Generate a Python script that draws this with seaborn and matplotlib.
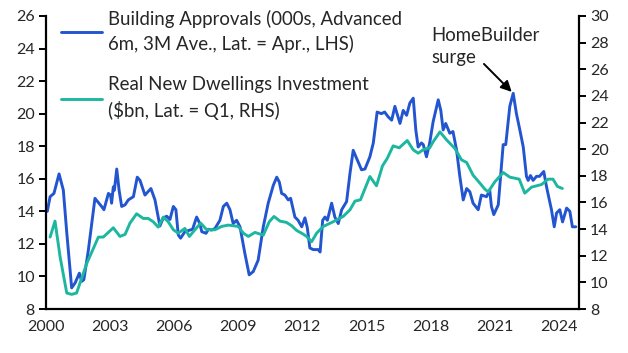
import numpy as np
import pandas as pd
import matplotlib
matplotlib.use("Agg")
import matplotlib.pyplot as plt
import seaborn as sns

# Building approvals (000s, LHS) - decimal year / value
approvals_year = [
    2000.06, 2000.19, 2000.37, 2000.61, 2000.81, 2000.97, 2001.2, 2001.36, 2001.56, 2001.67,
    2001.77, 2001.98, 2002.29, 2002.6, 2002.71, 2002.92, 2003.02, 2003.07, 2003.15, 2003.2,
    2003.31, 2003.42, 2003.54, 2003.7, 2003.85, 2004.09, 2004.27, 2004.4, 2004.63, 2004.91,
    2005.1, 2005.33, 2005.49, 2005.65, 2005.8, 2005.96, 2006.08, 2006.19, 2006.3, 2006.5,
    2006.74, 2006.86, 2007.05, 2007.2, 2007.29, 2007.49, 2007.6, 2007.75, 2007.91, 2008.14,
    2008.3, 2008.46, 2008.61, 2008.76, 2008.92, 2009.08, 2009.31, 2009.51, 2009.7, 2009.93,
    2010.17, 2010.4, 2010.64, 2010.8, 2010.92, 2011.03, 2011.18, 2011.34, 2011.45, 2011.65,
    2011.8, 2011.97, 2012.12, 2012.23, 2012.35, 2012.51, 2012.74, 2012.83, 2012.95, 2013.06,
    2013.17, 2013.37, 2013.52, 2013.68, 2013.84, 2014.07, 2014.23, 2014.38, 2014.54, 2014.77,
    2014.93, 2015.16, 2015.32, 2015.5, 2015.7, 2015.85, 2016.02, 2016.18, 2016.33, 2016.57,
    2016.72, 2016.88, 2017.03, 2017.19, 2017.31, 2017.42, 2017.57, 2017.66, 2017.81, 2017.96,
    2018.12, 2018.36, 2018.48, 2018.59, 2018.71, 2018.9, 2019.05, 2019.22, 2019.37, 2019.53,
    2019.69, 2019.84, 2019.99, 2020.23, 2020.38, 2020.62, 2020.77, 2020.85, 2020.96, 2021.17,
    2021.4, 2021.52, 2021.71, 2021.87, 2022.02, 2022.18, 2022.34, 2022.49, 2022.57, 2022.68,
    2022.8, 2022.96, 2023.1, 2023.3, 2023.43, 2023.66, 2023.79, 2023.9, 2024.05, 2024.18,
    2024.37, 2024.52, 2024.64, 2024.8,
]
approvals = [
    14.0, 14.9, 15.1, 16.3, 15.3, 12.7, 9.3, 9.6, 10.2, 9.7,
    9.8, 11.6, 14.8, 14.3, 14.1, 15.1, 15.0, 14.5, 15.5, 15.3,
    16.6, 15.3, 14.3, 14.4, 14.7, 14.9, 16.1, 15.9, 15.0, 15.4,
    14.7, 13.1, 13.6, 13.7, 13.5, 14.3, 14.1, 12.55, 12.35, 12.75,
    12.85, 12.9, 13.65, 13.25, 12.75, 12.65, 12.9, 12.85, 12.95, 13.45,
    14.3, 14.5, 14.1, 13.25, 13.45, 13.05, 11.4, 10.1, 10.3, 11.0,
    13.05, 14.5, 15.6, 16.1, 15.8, 15.1, 15.0, 14.7, 14.8, 13.65,
    13.45, 13.05, 13.6, 13.0, 11.75, 11.65, 11.65, 11.5, 13.45, 13.65,
    13.45, 14.5, 13.65, 13.25, 14.1, 14.6, 16.35, 17.75, 17.25, 16.55,
    16.6, 17.35, 18.2, 20.1, 20.0, 20.1, 19.8, 19.6, 20.45, 19.4,
    20.2, 19.9, 20.65, 20.95, 19.0, 17.95, 18.2, 18.1, 17.35, 18.2,
    19.5, 20.85, 20.2, 19.0, 19.4, 18.8, 18.9, 17.75, 16.15, 14.7,
    15.4, 15.2, 14.5, 14.1, 15.0, 14.9, 15.3, 14.3, 13.8, 14.4,
    18.1, 18.1, 20.45, 21.25, 20.0, 19.0, 17.95, 16.15, 15.9, 16.2,
    15.9, 16.15, 16.15, 16.45, 15.5, 14.1, 13.05, 13.9, 14.1, 13.35,
    14.2, 14.0, 13.05, 13.05,
]

# Real new dwellings investment ($bn, RHS)
invest_year = [
    2000.19, 2000.42, 2000.66, 2000.97, 2001.2, 2001.43, 2001.9, 2002.45, 2002.68, 2003.15,
    2003.46, 2003.7, 2003.93, 2004.24, 2004.55, 2004.78, 2005.02, 2005.25, 2005.49, 2005.72,
    2005.96, 2006.19, 2006.5, 2006.71, 2006.97, 2007.24, 2007.52, 2007.91, 2008.22, 2008.53,
    2009.0, 2009.23, 2009.47, 2009.78, 2010.17, 2010.45, 2010.67, 2010.95, 2011.26, 2011.5,
    2011.73, 2012.01, 2012.2, 2012.43, 2012.67, 2012.98, 2013.44, 2013.91, 2014.23, 2014.46,
    2014.72, 2015.16, 2015.47, 2015.75, 2015.97, 2016.25, 2016.53, 2016.91, 2017.19, 2017.42,
    2017.7, 2017.96, 2018.12, 2018.44, 2018.75, 2019.14, 2019.45, 2019.69, 2019.99, 2020.31,
    2020.54, 2020.7, 2021.01, 2021.4, 2021.71, 2022.15, 2022.41, 2022.73, 2023.2, 2023.5,
    2023.73, 2023.94, 2024.17,
]
invest = [
    13.4, 14.6, 11.9, 9.2, 9.1, 9.2, 11.4, 13.4, 13.4, 14.1,
    13.45, 13.6, 14.45, 15.15, 14.8, 14.8, 14.55, 14.15, 14.9, 14.55,
    13.95, 13.7, 14.05, 13.45, 13.95, 14.45, 13.95, 13.95, 14.2, 14.3,
    14.2, 13.7, 13.45, 13.75, 13.55, 14.55, 14.95, 14.6, 14.5, 14.25,
    13.9, 13.65, 13.45, 13.05, 13.7, 14.2, 14.55, 14.95, 15.45, 16.1,
    16.2, 17.95, 17.25, 18.75, 19.3, 20.25, 20.1, 20.65, 19.95, 19.7,
    20.0, 20.1, 20.55, 21.3, 20.7, 20.05, 19.2, 19.0, 18.05, 17.45,
    17.0, 16.8, 17.55, 18.25, 17.9, 17.75, 16.7, 17.15, 17.35, 17.75,
    17.75, 17.2, 17.05,
]

label_approvals = "Building Approvals (000s, Advanced\n6m, 3M Ave., Lat. = Apr., LHS)"
label_invest = "Real New Dwellings Investment\n($bn, Lat. = Q1, RHS)"
xticks = [2000, 2003, 2006, 2009, 2012, 2015, 2018, 2021, 2024]

blue = "#2255cf"
teal = "#1db7a0"

sns.set_style("white")
plt.rcParams["font.family"] = ["Lato", "DejaVu Sans"]
plt.rcParams["font.size"] = 11.5

df_a = pd.DataFrame({"year": approvals_year, "value": approvals})
df_i = pd.DataFrame({"year": invest_year, "value": invest})

fig = plt.figure(figsize=(6.28, 3.53), dpi=100)
ax = fig.add_axes([0.0733, 0.1246, 0.8487, 0.8301])
ax2 = ax.twinx()

sns.lineplot(data=df_a, x="year", y="value", ax=ax, color=blue, linewidth=2.1, label=label_approvals, legend=False)
sns.lineplot(data=df_i, x="year", y="value", ax=ax2, color=teal, linewidth=2.1, label=label_invest, legend=False)

ax.set_xlim(2000, 2024.95)
ax.set_ylim(8, 26)
ax2.set_ylim(8, 30)
ax.set_yticks(np.arange(8, 27, 2))
ax2.set_yticks(np.arange(8, 31, 2))
ax.set_xticks(xticks)
ax.set_xlabel("")
ax.set_ylabel("")
ax2.set_ylabel("")

for a in (ax, ax2):
    a.spines["top"].set_visible(False)
    for s in ("left", "right", "bottom"):
        a.spines[s].set_linewidth(1.6)
        a.spines[s].set_color("black")
    a.tick_params(axis="both", direction="out", length=5, width=1.4, color="black",
                  labelsize=11.5, pad=3)
ax.spines["right"].set_visible(False)
ax2.spines["left"].set_visible(False)
ax2.spines["bottom"].set_visible(False)
ax.grid(False)
ax2.grid(False)

h1, l1 = ax.get_legend_handles_labels()
h2, l2 = ax2.get_legend_handles_labels()
leg = ax2.legend(h1 + h2, l1 + l2, loc="upper left", bbox_to_anchor=(0.028, 1.022),
                 borderaxespad=0, borderpad=0, frameon=False,
                 handlelength=2.2, handletextpad=0.35, labelspacing=1.25,
                 fontsize=13.4)
for t in leg.get_texts():
    t.set_linespacing(1.5)

ax2.text(2018.02, 29.2, "HomeBuilder\nsurge", fontsize=13.4, ha="left", va="top",
         linespacing=1.4)
ax2.annotate("", xy=(2021.8, 24.3), xytext=(2020.5, 26.4),
             arrowprops=dict(arrowstyle="-|>", color="black", lw=1.4, mutation_scale=16,
                             shrinkA=0, shrinkB=0))

fig.savefig("out.png", dpi=100)
